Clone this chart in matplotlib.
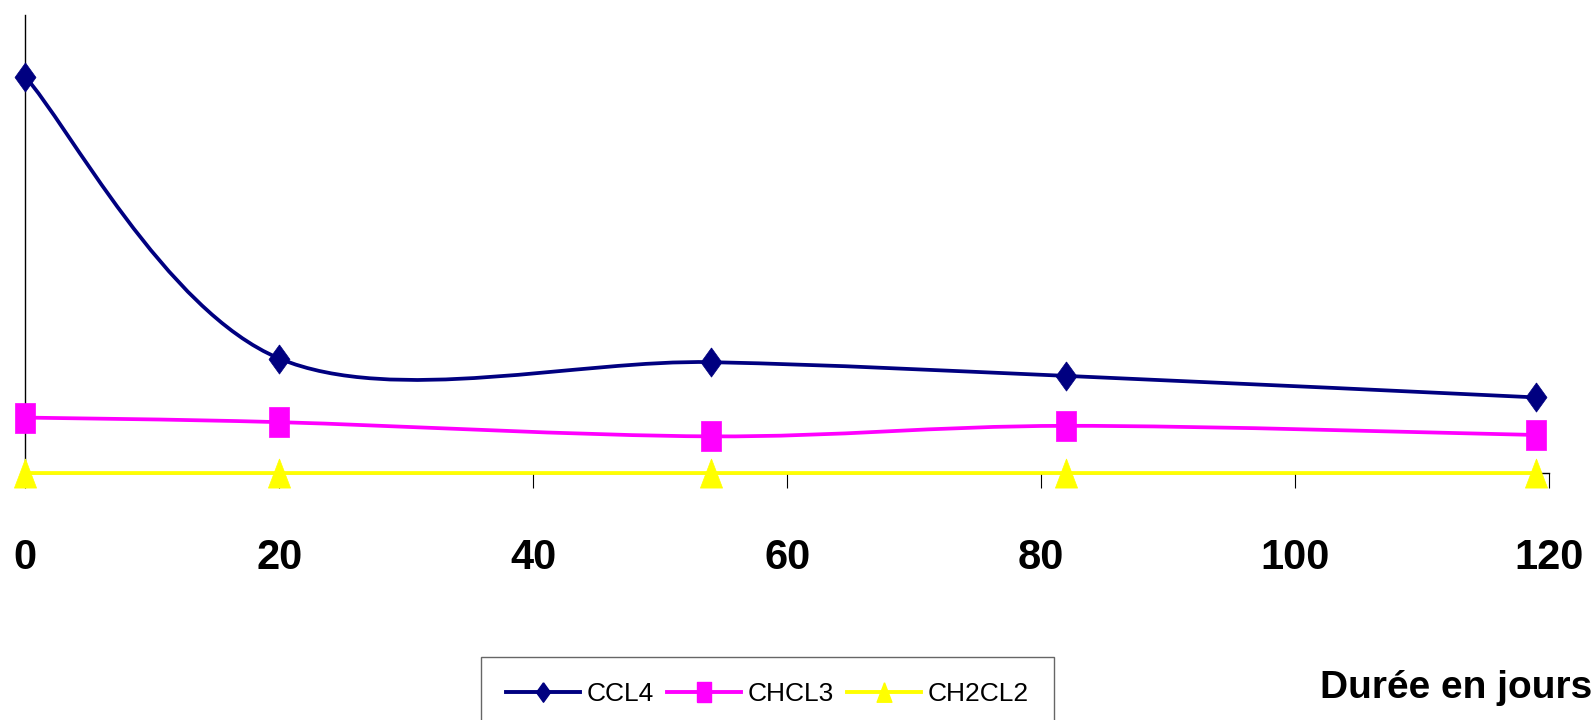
import numpy as np
import matplotlib.pyplot as plt
from matplotlib.path import Path
from matplotlib.patches import PathPatch
from matplotlib.lines import Line2D

# durée (jours) et teneurs mesurées
jours = [0, 20, 54, 82, 119]
ccl4 = [86.5, 25.0, 24.2, 21.2, 16.5]
chcl3 = [12.1, 11.1, 8.0, 10.3, 8.3]
ch2cl2 = [0, 0, 0, 0, 0]
xticks = [0, 20, 40, 60, 80, 100, 120]

noms = ['CCL4', 'CHCL3', 'CH2CL2']
couleurs = ['#000080', '#FF00FF', '#FFFF00']

police = ['Liberation Sans Narrow', 'Liberation Sans', 'DejaVu Sans']

# marqueurs étirés en hauteur
losange = [(0, 1), (0.72, 0), (0, -1), (-0.72, 0), (0, 1)]
carre = [(-0.69, -1), (0.69, -1), (0.69, 1), (-0.69, 1), (-0.69, -1)]
triangle = [(0, 1), (0.76, -1), (-0.76, -1), (0, 1)]
marqueurs = [losange, carre, triangle]


def courbe_lissee(x, y):
    # courbe de Bézier comme le lissage d'Excel
    p = np.column_stack([x, y]).astype(float)
    n = len(p)
    verts = [p[0]]
    codes = [Path.MOVETO]
    for i in range(n - 1):
        prev = p[max(i - 1, 0)]
        nxt = p[min(i + 2, n - 1)]
        c1 = p[i] + (p[i + 1] - prev) / 6
        c2 = p[i + 1] - (nxt - p[i]) / 6
        verts += [c1, c2, p[i + 1]]
        codes += [Path.CURVE4] * 3
    return Path(verts, codes)


fig = plt.figure(figsize=(15.96, 7.2), dpi=100)
ax = fig.add_axes([25.3 / 1596, 247 / 720, (1549 - 25.3) / 1596, (473 - 15) / 720])

for y, c, m in zip([ccl4, chcl3, ch2cl2], couleurs, marqueurs):
    ax.add_patch(PathPatch(courbe_lissee(jours, y), facecolor='none',
                           edgecolor=c, lw=2.7, zorder=3, clip_on=False))
    ax.plot(jours, y, ls='none', marker=m, markersize=21, color=c,
            mec=c, mew=0.5, zorder=4, clip_on=False)

ax.set_xlim(0, 120)
ax.set_ylim(0, 100)
ax.set_xticks(xticks)
ax.set_yticks([])
for s in ['top', 'right']:
    ax.spines[s].set_visible(False)
for s in ['left', 'bottom']:
    ax.spines[s].set_linewidth(1.0)
    ax.spines[s].set_color('black')
ax.tick_params(axis='x', direction='out', length=11, width=0.8, pad=35.5,
               colors='black')
for lab in ax.get_xticklabels():
    lab.set_family(police)
    lab.set_fontweight('bold')
    lab.set_fontsize(30)

handles = [Line2D([], [], color=c, lw=2.8, marker=m, markersize=14, mec=c)
           for c, m in zip(couleurs, marqueurs)]
leg = fig.legend(handles, noms, loc='upper left',
                 bbox_to_anchor=(481 / 1596, 1 - 657 / 720),
                 bbox_transform=fig.transFigure, ncol=3, frameon=True,
                 fancybox=False, borderpad=0.95, handlelength=2.8,
                 handletextpad=0.25, columnspacing=0.5, borderaxespad=0,
                 prop={'family': police, 'size': 19})
leg.get_frame().set_edgecolor('#404040')
leg.get_frame().set_linewidth(1.0)

fig.text(1592 / 1596, 22 / 720, 'Durée en jours', ha='right', va='baseline',
         family=police, fontweight='bold', fontsize=28)

fig.savefig('out.png', dpi=100)
